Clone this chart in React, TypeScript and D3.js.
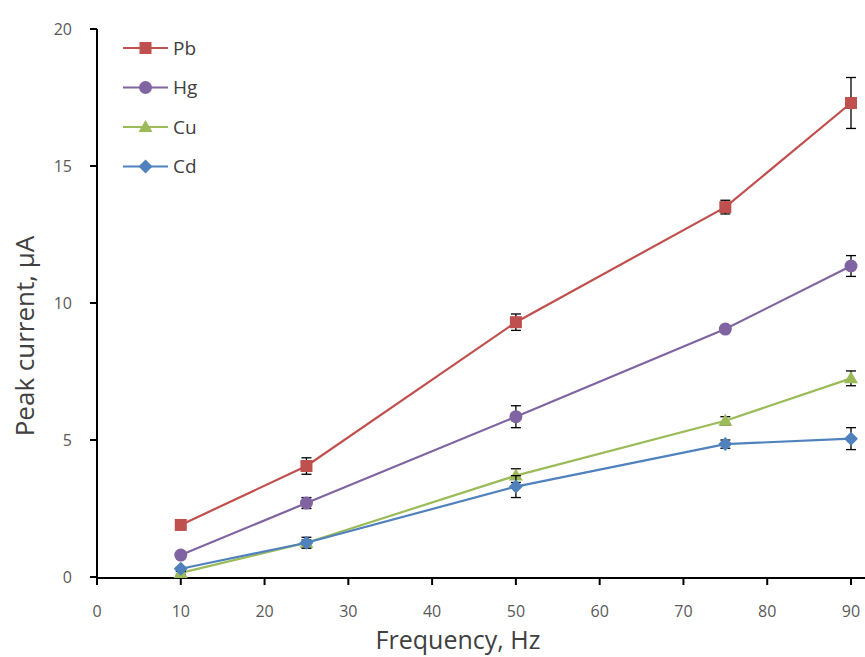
import React from "react";
import * as d3 from "d3";

const frequencies = [10, 25, 50, 75, 90];
const seriesNames = ["Pb", "Hg", "Cu", "Cd"];
const pbValues = [1.9, 4.05, 9.3, 13.5, 17.3];
const pbErrors = [0.1, 0.3, 0.3, 0.25, 0.93];
const hgValues = [0.8, 2.7, 5.85, 9.05, 11.35];
const hgErrors = [0.05, 0.2, 0.4, 0.1, 0.38];
const cuValues = [0.15, 1.25, 3.7, 5.7, 7.25];
const cuErrors = [0.05, 0.1, 0.25, 0.15, 0.27];
const cdValues = [0.3, 1.25, 3.3, 4.85, 5.05];
const cdErrors = [0.05, 0.2, 0.4, 0.15, 0.4];
const xTicks = [0, 10, 20, 30, 40, 50, 60, 70, 80, 90];
const yTicks = [0, 5, 10, 15, 20];

const colors = ["#C0504D", "#8064A2", "#9BBB59", "#4F81BD"];
const shapes = ["square", "circle", "triangle", "diamond"];

const W = 865;
const H = 657;
const x0 = 97;
const y0 = 578;

const xScale = d3.scaleLinear().domain([0, 90]).range([97, 851]);
const yScale = d3.scaleLinear().domain([0, 20]).range([577, 29]);

const font = "'Open Sans', 'Noto Sans', sans-serif";

function Marker({ shape, cx, cy, color }: { shape: string; cx: number; cy: number; color: string }) {
  if (shape === "square") return <rect x={cx - 6} y={cy - 6} width={12} height={12} fill={color} />;
  if (shape === "circle") return <circle cx={cx} cy={cy} r={6.5} fill={color} />;
  if (shape === "triangle")
    return <path d={`M${cx},${cy - 7}L${cx + 7},${cy + 5}L${cx - 7},${cy + 5}Z`} fill={color} />;
  return <path d={`M${cx},${cy - 7}L${cx + 7},${cy}L${cx},${cy + 7}L${cx - 7},${cy}Z`} fill={color} />;
}

export default function App() {
  const series = [
    { name: seriesNames[0], values: pbValues, errors: pbErrors },
    { name: seriesNames[1], values: hgValues, errors: hgErrors },
    { name: seriesNames[2], values: cuValues, errors: cuErrors },
    { name: seriesNames[3], values: cdValues, errors: cdErrors },
  ];
  const line = d3
    .line<number>()
    .x((_, i) => xScale(frequencies[i]))
    .y((d) => yScale(d));

  return (
    <svg width={W} height={H} style={{ position: "absolute", left: 0, top: 0, background: "#fff" }}>
      <rect width={W} height={H} fill="#fff" />
      {/* axes */}
      <line x1={x0} y1={29} x2={x0} y2={y0 + 1} stroke="#000" strokeWidth={2} />
      <line x1={x0 - 1} y1={y0} x2={865} y2={y0} stroke="#000" strokeWidth={2} />
      {yTicks.map((t) => (
        <g key={"y" + t}>
          <line x1={x0 - 7} x2={x0} y1={yScale(t)} y2={yScale(t)} stroke="#000" strokeWidth={2} />
          <text x={72} y={yScale(t)} dy="0.35em" textAnchor="end" fontSize={16} fill="#595959" fontFamily={font}>
            {t}
          </text>
        </g>
      ))}
      {xTicks.map((t) => (
        <g key={"x" + t}>
          <line x1={xScale(t)} x2={xScale(t)} y1={y0} y2={y0 + 7} stroke="#000" strokeWidth={2} />
          <text x={xScale(t)} y={617} textAnchor="middle" fontSize={16} fill="#595959" fontFamily={font}>
            {t}
          </text>
        </g>
      ))}
      <text x={458} y={649} textAnchor="middle" fontSize={25} fill="#404040" fontFamily={font}>
        Frequency, Hz
      </text>
      <text
        transform={`translate(34,336) rotate(-90)`}
        textAnchor="middle"
        fontSize={26}
        fill="#404040"
        fontFamily={font}
      >
        Peak current, μA
      </text>
      {/* series */}
      {series.map((s, si) => (
        <g key={s.name}>
          <path d={line(s.values) || ""} fill="none" stroke={colors[si]} strokeWidth={2.2} />
          {s.values.map((v, i) => {
            const cx = xScale(frequencies[i]);
            const top = yScale(v + s.errors[i]);
            const bot = yScale(v - s.errors[i]);
            return (
              <g key={i}>
                <line x1={cx} x2={cx} y1={top} y2={bot} stroke="#000" strokeWidth={1.3} />
                <line x1={cx - 5} x2={cx + 5} y1={top} y2={top} stroke="#000" strokeWidth={1.3} />
                <line x1={cx - 5} x2={cx + 5} y1={bot} y2={bot} stroke="#000" strokeWidth={1.3} />
                <Marker shape={shapes[si]} cx={cx} cy={yScale(v)} color={colors[si]} />
              </g>
            );
          })}
        </g>
      ))}
      {/* legend */}
      {series.map((s, si) => {
        const ly = 48 + si * 39.5;
        return (
          <g key={"lg" + s.name}>
            <line x1={123} x2={168} y1={ly} y2={ly} stroke={colors[si]} strokeWidth={2.2} />
            <Marker shape={shapes[si]} cx={145.5} cy={ly} color={colors[si]} />
            <text x={173} y={ly} dy="0.35em" fontSize={19} fill="#404040" fontFamily={font}>
              {s.name}
            </text>
          </g>
        );
      })}
    </svg>
  );
}
